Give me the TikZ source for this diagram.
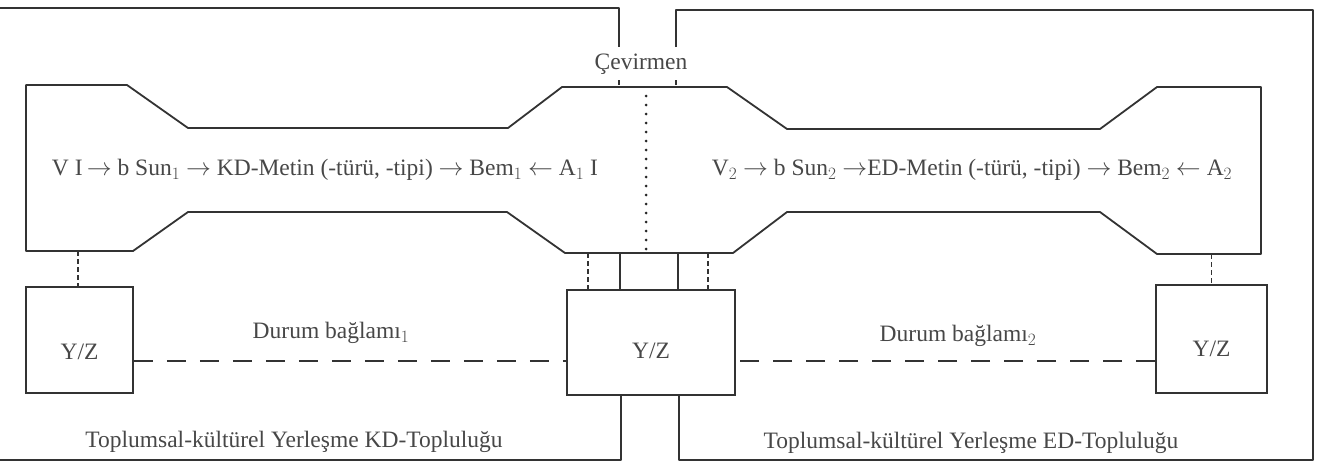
\documentclass[tikz,border=0pt]{standalone}
\usepackage{fontspec}
\setmainfont{Liberation Serif}
\begin{document}
\begin{tikzpicture}[x=1pt,y=-1pt,
  ln/.style={draw=black!80,line width=1.8pt,line join=round},
  conn/.style={draw=black!80,line width=1.5pt,dash pattern=on 5pt off 3pt},
  hdash/.style={draw=black!80,line width=1.8pt,dash pattern=on 19pt off 14pt},
  dotline/.style={draw=black!85,line width=3pt,line cap=round,dash pattern=on 0pt off 9pt},
  txt/.style={text=black!72,font=\fontsize{23.5}{28}\selectfont,inner sep=0pt},
  yzbox/.style={draw=black!80,line width=1.8pt,inner sep=0pt}
]
\useasboundingbox (0,0) rectangle (1329,467);
% outer frames
\draw[ln] (0,8) -- (619,8) -- (619,47);
\draw[conn] (619,80) -- (619,87);
\draw[ln] (676,47) -- (676,10) -- (1313,10) -- (1313,460) -- (679,460) -- (679,395);
\draw[conn] (676,80) -- (676,87);
\draw[ln] (621,395) -- (621,460) -- (0,460);
% band
\draw[ln] (26,85) -- (127,85) -- (188,128) -- (508,128) -- (562,87) -- (727,87)
  -- (787,129) -- (1100,129) -- (1157,87) -- (1261,87) -- (1261,254) -- (1157,254)
  -- (1100,212) -- (787,212) -- (733,253) -- (565,253) -- (507,212) -- (188,212)
  -- (133,251) -- (26,251) -- cycle;
\draw[dotline] (646,96) -- (646,250);
\node[txt] (cev) at (641,64) {Çevirmen};
% texts in band
\node[txt] (t1) at (325,170) {V I$\,\rightarrow$ b Sun$_1$ $\rightarrow$ KD-Metin (-türü, -tipi) $\rightarrow$ Bem$_1$ $\leftarrow$ A$_1$ I};
\node[txt] (t2) at (972,170) {V$_2$ $\rightarrow$ b Sun$_2$ $\rightarrow$ED-Metin (-türü, -tipi) $\rightarrow$ Bem$_2$ $\leftarrow$ A$_2$};
% boxes
\node[yzbox,minimum width=107pt,minimum height=106pt,
  label={[txt,anchor=center,yshift=-12pt]center:Y/Z}] (lbox) at (79.5,340) {};
\node[yzbox,minimum width=168pt,minimum height=105pt,
  label={[txt,anchor=center,yshift=-8pt]center:Y/Z}] (cbox) at (651,342.5) {};
\node[yzbox,minimum width=111pt,minimum height=108pt,
  label={[txt,anchor=center,yshift=-10pt]center:Y/Z}] (rbox) at (1211.5,339) {};
% connectors band -> boxes
\coordinate (bl) at (78,251);
\coordinate (br) at (1211.5,254);
\draw[conn] (bl) -- (lbox.north -| bl);
\draw[conn] (br) -- (rbox.north);
\coordinate (c1) at (588,253);
\coordinate (c2) at (708,253);
\coordinate (c3) at (620,253);
\coordinate (c4) at (678,253);
\draw[conn] (c1) -- (cbox.north -| c1);
\draw[conn] (c2) -- (cbox.north -| c2);
\draw[ln] (c3) -- (cbox.north -| c3);
\draw[ln] (c4) -- (cbox.north -| c4);
% horizontal dashed
\coordinate (hl) at (0,361);
\draw[hdash] (lbox.east |- hl) -- (cbox.west |- hl);
\draw[hdash] (rbox.west |- hl) -- (cbox.east |- hl);
% labels
\node[txt] (d1) at (331,333) {Durum bağlamı$_1$};
\node[txt] (d2) at (958,336) {Durum bağlamı$_2$};
\node[txt] (k1) at (294,442) {Toplumsal-kültürel Yerleşme KD-Topluluğu};
\node[txt] (k2) at (971,443) {Toplumsal-kültürel Yerleşme ED-Topluluğu};
\end{tikzpicture}
\end{document}
